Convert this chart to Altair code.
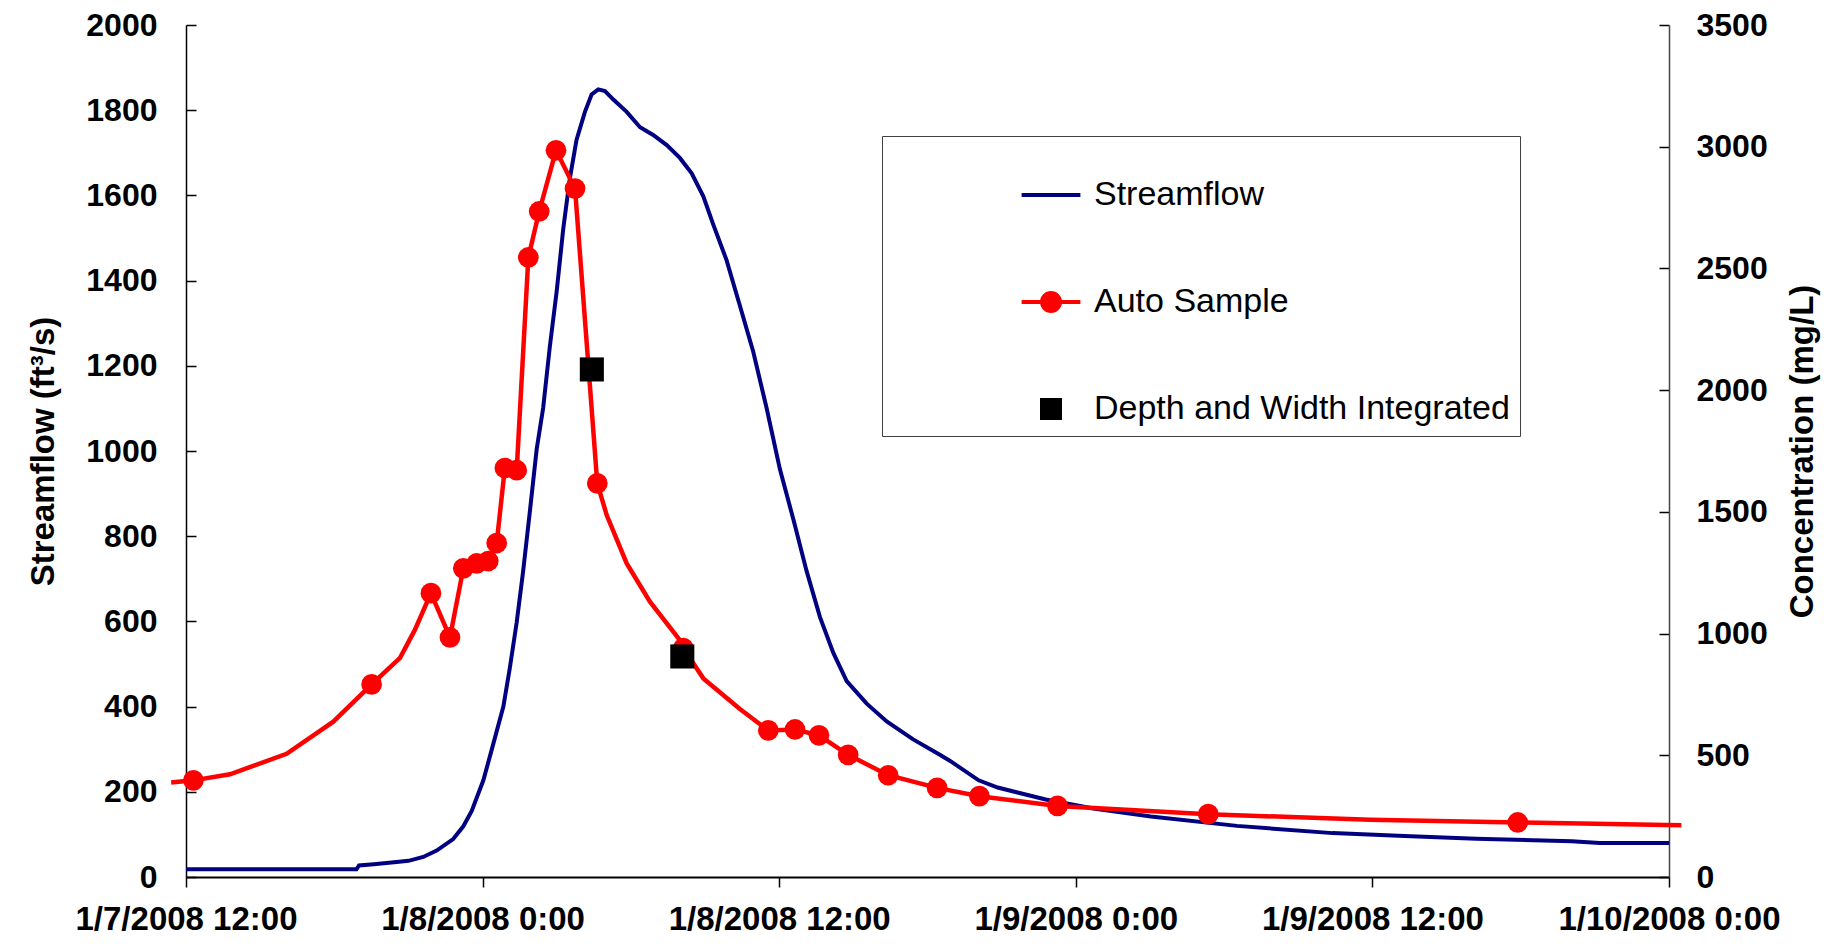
import json
import altair as alt
import pandas as pd

# ---------------- data (hours since 1/7/2008 12:00) ----------------
FLOW_HOURS = [0, 6.9, 7.0, 7.6, 8.52, 9.0, 9.6, 10.14, 10.81, 11.22, 11.56, 12.03, 12.37,
              12.84, 13.1, 13.38, 13.64, 13.92, 14.19, 14.45, 14.72, 15.0, 15.26, 15.53,
              15.8, 16.14, 16.41, 16.68, 16.95, 17.29, 17.83, 18.37, 18.9, 19.45, 19.98,
              20.46, 20.93, 21.33, 21.87, 22.41, 22.95, 23.49, 24.03, 24.58, 25.11, 25.65,
              26.19, 26.73, 27.54, 28.35, 29.42, 30.5, 30.9, 32.07, 32.84, 34.78, 36.71,
              39.04, 42.52, 46.39, 49.3, 52.2, 56.07, 57.2, 60]
FLOW_CFS = [18, 18, 27, 30, 35, 38, 47, 62, 89, 119, 155, 227, 299,
            400, 490, 598, 718, 862, 1005, 1101, 1245, 1376, 1520, 1640,
            1730, 1796, 1837, 1849, 1845, 1825, 1796, 1760, 1742, 1718, 1688,
            1652, 1598, 1532, 1448, 1341, 1233, 1101, 957, 838, 718, 610,
            526, 460, 407, 365, 323, 287, 273, 227, 210, 182, 161,
            142, 120, 103, 96, 90, 84, 80, 80]

AUTO_LINE_HOURS = [-0.6, 0.30, 1.78, 4.07, 5.96, 7.51, 8.66, 9.26, 9.91, 10.68, 11.22, 11.76,
                   12.23, 12.57, 12.90, 13.38, 13.85, 14.29, 14.97, 15.74, 16.64, 17.02,
                   17.83, 18.77, 19.98, 20.12, 20.93, 22.41, 23.56, 24.64, 25.61, 26.79,
                   28.41, 30.39, 32.10, 35.26, 41.36, 47.9, 53.88, 60.5]
AUTO_LINE_MGL = [388, 397, 422, 506, 638, 791, 900, 1015, 1166, 984, 1268, 1288,
                 1298, 1372, 1680, 1671, 2545, 2734, 2985, 2828, 1617, 1487,
                 1288, 1131, 973, 940, 816, 690, 602, 606, 582, 502,
                 418, 366, 332, 292, 258, 235, 224, 213]

AUTO_SAMPLE_HOURS = [0.30, 7.51, 9.91, 10.68, 11.22, 11.76, 12.23, 12.57, 12.90, 13.38, 13.85,
                     14.29, 14.97, 15.74, 16.64, 20.12, 23.56, 24.64, 25.61, 26.79, 28.41,
                     30.39, 32.10, 35.26, 41.36, 53.88]
AUTO_SAMPLE_MGL = [397, 791, 1166, 984, 1268, 1288, 1298, 1372, 1680, 1671, 2545,
                   2734, 2985, 2828, 1617, 940, 602, 606, 582, 502, 418,
                   366, 332, 292, 258, 224]

DWI_HOURS = [16.42, 20.08]
DWI_MGL = [2085, 906]

X_TICK_HOURS = [0, 12, 24, 36, 48, 60]
X_TICK_LABELS = ["1/7/2008 12:00", "1/8/2008 0:00", "1/8/2008 12:00",
                 "1/9/2008 0:00", "1/9/2008 12:00", "1/10/2008 0:00"]
FLOW_TICKS = [0, 200, 400, 600, 800, 1000, 1200, 1400, 1600, 1800, 2000]
CONC_TICKS = [0, 500, 1000, 1500, 2000, 2500, 3000, 3500]

SERIES = ["Streamflow", "Auto Sample", "Depth and Width Integrated"]
SERIES_COLORS = ["#000080", "#FF0000", "#000000"]
SERIES_SHAPES = [
    "M-2.45,0L2.45,0",
    "M-2.45,0L2.45,0M-0.75,0A0.75,0.75,0,1,1,0.75,0A0.75,0.75,0,1,1,-0.75,0Z",
    "M-0.75,-0.75L0.75,-0.75L0.75,0.75L-0.75,0.75Z",
]

FONT = "Liberation Sans"

flow_df = pd.DataFrame({"hours": FLOW_HOURS, "cfs": FLOW_CFS})
auto_line_df = pd.DataFrame({"hours": AUTO_LINE_HOURS, "mgl": AUTO_LINE_MGL})
auto_pts_df = pd.DataFrame({"hours": AUTO_SAMPLE_HOURS, "mgl": AUTO_SAMPLE_MGL})
dwi_df = pd.DataFrame({"hours": DWI_HOURS, "mgl": DWI_MGL})
legend_df = pd.DataFrame({"series": SERIES})

label_expr = json.dumps(X_TICK_LABELS).replace('"', "'") + "[round(datum.value / 12)]"

x_enc = alt.X(
    "hours:Q",
    scale=alt.Scale(domain=[0, 60], nice=False, zero=False),
    axis=alt.Axis(values=X_TICK_HOURS, labelExpr=label_expr, title=None, grid=False,
                  domainColor="black", domainWidth=2, tickColor="black", tickWidth=1.5,
                  tickSize=10, labelFontSize=33, labelPadding=16, labelFlush=False,
                  labelOverlap=False, labelLimit=600, labelFont=FONT,
                  labelFontWeight="bold", labelColor="black"),
)

left_axis = alt.Axis(orient="left", values=FLOW_TICKS, format="d", title="Streamflow (ft³/s)",
                     grid=True, gridDash=[10, 4000], gridColor="black", gridWidth=1.5,
                     gridOpacity=1, ticks=False, domainColor="black", domainWidth=1.5,
                     labelFontSize=32, labelPadding=29, labelFont=FONT,
                     labelFontWeight="bold", labelColor="black", labelOverlap=False,
                     titleFont=FONT, titleFontSize=33, titleFontWeight="bold",
                     titleColor="black", titlePadding=25)

right_axis = alt.Axis(orient="right", values=CONC_TICKS, format="d", title="Concentration (mg/L)",
                      grid=True, gridDash=[10, 4000], gridColor="black", gridWidth=1.5,
                      gridOpacity=1, ticks=False, domainColor="#444444", domainWidth=1.5,
                      labelFontSize=32, labelPadding=27, labelFont=FONT,
                      labelFontWeight="bold", labelColor="black", labelOverlap=False,
                      titleFont=FONT, titleFontSize=33, titleFontWeight="bold",
                      titleColor="black", titleAngle=270, titleBaseline="top",
                      titlePadding=19)

flow_scale = alt.Scale(domain=[0, 2000], nice=False, zero=True)
conc_scale = alt.Scale(domain=[0, 3500], nice=False, zero=True)

flow_layer = alt.Chart(flow_df).mark_line(color="#000080", strokeWidth=4).encode(
    x=x_enc,
    y=alt.Y("cfs:Q", scale=flow_scale, axis=left_axis),
    order="hours:Q",
)

auto_line = alt.Chart(auto_line_df).mark_line(color="#FF0000", strokeWidth=4.5).encode(
    x=x_enc,
    y=alt.Y("mgl:Q", scale=conc_scale, axis=right_axis),
    order="hours:Q",
)

auto_pts = alt.Chart(auto_pts_df).mark_circle(color="#FF0000", size=430, opacity=1).encode(
    x=x_enc,
    y=alt.Y("mgl:Q", scale=conc_scale, axis=right_axis),
)

dwi_pts = alt.Chart(dwi_df).mark_square(color="#000000", size=580, opacity=1).encode(
    x=x_enc,
    y=alt.Y("mgl:Q", scale=conc_scale, axis=right_axis),
)

legend_obj = alt.Legend(
    title=" ", titleFontSize=20, titlePadding=12, orient="none",
    legendX=696, legendY=111, strokeColor="#404040", fillColor="white", padding=10,
    symbolOffset=142, labelOffset=26, rowPadding=73, symbolSize=576,
    symbolStrokeWidth=4, labelFont=FONT, labelFontSize=34, labelColor="black",
    labelLimit=1000,
)

legend_layer = alt.Chart(legend_df).transform_filter("false").mark_point(
    filled=True, opacity=1
).encode(
    shape=alt.Shape("series:N", scale=alt.Scale(domain=SERIES, range=SERIES_SHAPES), legend=legend_obj),
    fill=alt.Fill("series:N", scale=alt.Scale(domain=SERIES, range=SERIES_COLORS), legend=legend_obj),
    stroke=alt.Stroke("series:N", scale=alt.Scale(domain=SERIES, range=SERIES_COLORS), legend=legend_obj),
)

right_layers = alt.layer(auto_line, auto_pts, dwi_pts, legend_layer)

chart = (
    alt.layer(flow_layer, right_layers)
    .resolve_scale(y="independent")
    .properties(
        width=1483, height=852,
        padding={"left": 178, "top": 17, "right": 165, "bottom": 64},
        autosize=alt.AutoSizeParams(type="none"),
        background="white",
    )
    .configure_view(stroke=None)
)

chart.save("out.html", embed_options={"renderer": "svg", "actions": False})
